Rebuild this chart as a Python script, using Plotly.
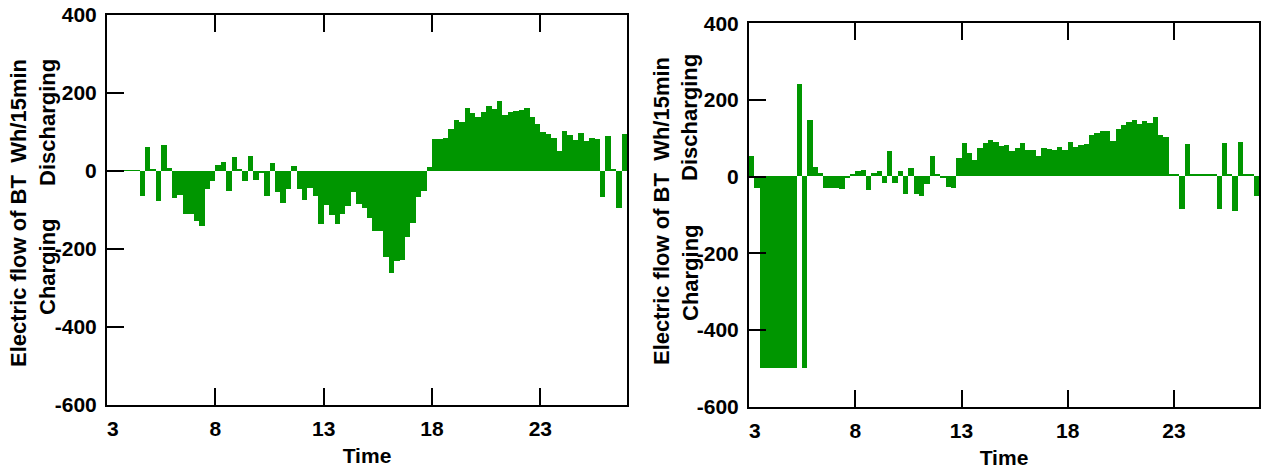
import plotly.graph_objects as go

# ---- data (Wh per 15 min, 96 intervals from 3h to 27h) ----
n_slots = 96
slot_hours = 0.25
start_hour = 3
times = [start_hour + slot_hours * k for k in range(n_slots)]

left_flow = [
    2, 2, 2, 2, 2, 2,
    -63, 61, 4, -77, 66, 7, -70, -62, -111, -111,
    -128, -141, -46, -25, 15, 22, -51, 37, 4, -26,
    39, -23, -6, -64, 21, -55, -81, -47, 13, -47,
    -74, -44, -64, -136, -87, -113, -136, -110, -91, -55,
    -85, -94, -120, -154, -154, -220, -262, -231, -227, -168,
    -134, -66, -51, 9, 81, 81, 85, 108, 132, 125,
    162, 148, 139, 152, 166, 158, 179, 144, 152, 153,
    157, 162, 139, 121, 99, 96, 84, 52, 102, 93,
    80, 97, 78, 85, 83, -66, 91, 4, -96, 95,
]

right_flow = [
    52, -31, -500, -500, -500, -500, -500, -500, -500, 240,
    -500, 148, 24, 10, -29, -30, -30, -33, -4, 7,
    13, 17, -35, 8, 13, -16, 66, -16, 13, -46,
    23, -46, -51, -20, 53, 7, -5, -28, -29, 48,
    87, 61, 43, 73, 87, 96, 91, 78, 81, 67,
    73, 87, 70, 69, 52, 73, 72, 70, 77, 70,
    90, 77, 83, 84, 107, 114, 118, 118, 93, 124,
    133, 142, 148, 137, 144, 140, 154, 109, 104, 6,
    6, -84, 85, 6, 6, 6, 6, 6, -84, 86,
    6, -91, 91, 6, 6, -52,
]

x_tick_vals = [3, 8, 13, 18, 23]
x_tick_text = ["\u00a0\u00a03", "8", "13", "18", "23"]
y_tick_vals = [-600, -400, -200, 0, 200, 400]
y_tick_text = ["-600", "-400", "-200", "0", "200", "400"]

y_title = "Electric flow of BT\u00a0 Wh/15min"
pos_label = "Discharging"
neg_label = "Charging"
x_title = "Time"

# ---- figure ----
W, H = 1264, 473
GREEN = "rgb(0,150,0)"
FONT = "Arial, Liberation Sans, sans-serif"
fs = 21
fs_title = 22

fig = go.Figure()
fig.add_trace(go.Bar(x=times, y=left_flow, width=slot_hours, offset=0,
                     marker=dict(color=GREEN, line=dict(width=0)),
                     xaxis="x", yaxis="y", showlegend=False))
fig.add_trace(go.Bar(x=times, y=right_flow, width=slot_hours, offset=0,
                     marker=dict(color=GREEN, line=dict(width=0)),
                     xaxis="x2", yaxis="y2", showlegend=False))

def px(v):
    return v / W

def py(v):
    return 1 - v / H

tickfont = dict(family=FONT, size=fs, color="black", weight="bold")
titlefont = dict(family=FONT, size=fs_title, color="black", weight="bold")

def xax(dom, anchor):
    return dict(domain=dom, anchor=anchor, range=[3, 27], tickvals=x_tick_vals,
                ticktext=x_tick_text, ticks="inside", ticklen=17, tickwidth=2,
                tickcolor="black", showline=True, linewidth=2, linecolor="black",
                mirror="ticks", showgrid=False, zeroline=False, tickfont=tickfont,
                automargin=False, ticklabelstandoff=4,
                title=dict(text=x_title, font=tickfont, standoff=9))

def yax(dom, anchor):
    return dict(domain=dom, anchor=anchor, range=[-600, 400], tickvals=y_tick_vals,
                ticktext=y_tick_text, ticks="inside", ticklen=17, tickwidth=2,
                tickcolor="black", showline=True, linewidth=2, linecolor="black",
                mirror=True, showgrid=False, zeroline=False, tickfont=tickfont,
                automargin=False, ticklabelstandoff=4)

fig.update_layout(
    width=W, height=H,
    margin=dict(l=0, r=0, t=0, b=0, autoexpand=False),
    paper_bgcolor="white", plot_bgcolor="white",
    bargap=0,
    xaxis=xax([px(107), px(627)], "y"),
    yaxis=yax([py(405), py(15)], "x"),
    xaxis2=xax([px(749), px(1259)], "y2"),
    yaxis2=yax([py(406.8), py(23.3)], "x2"),
)

annots = [
    (y_title, 18, 213), (pos_label, 47, 122), (neg_label, 47, 266),
    (y_title, 662, 211), (pos_label, 690, 118), (neg_label, 690, 273),
]
for text, ax_, ay_ in annots:
    fig.add_annotation(text=text, x=px(ax_), y=py(ay_), xref="paper", yref="paper",
                       showarrow=False, textangle=-90, xanchor="center", yanchor="middle",
                       font=titlefont)

fig.write_html("out.html", config={"displayModeBar": False},
               post_script="document.body.style.margin='0';document.body.style.padding='0';")
